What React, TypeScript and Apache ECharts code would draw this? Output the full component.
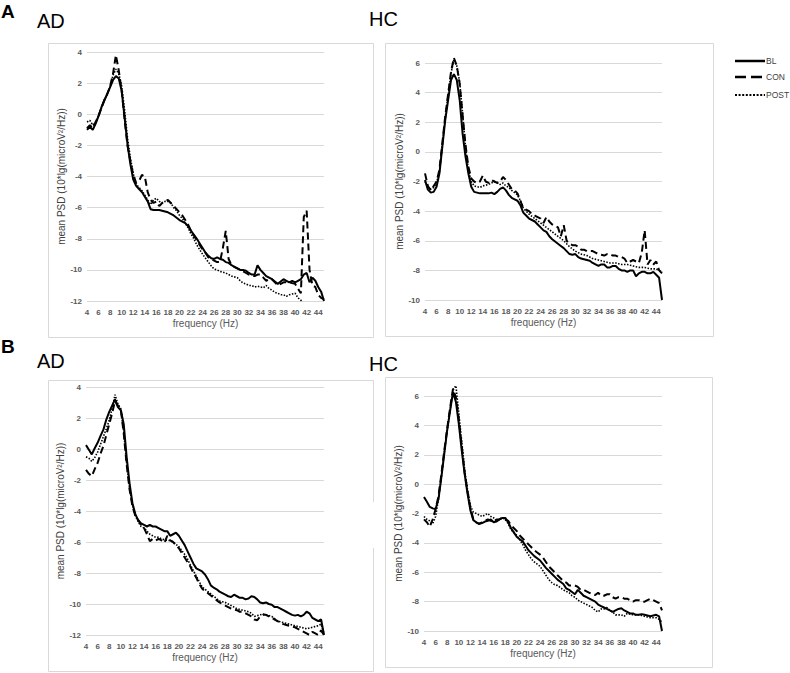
import React, { useEffect, useRef } from "react";
import * as echarts from "echarts";

// Frequency grid (Hz) shared by every spectrum
const FREQS = [
  4, 4.5, 5, 5.5, 6, 6.5, 7, 7.5, 8, 8.5,
  9, 9.5, 10, 10.5, 11, 11.5, 12, 12.5, 13, 13.5,
  14, 14.5, 15, 15.5, 16, 16.5, 17, 17.5, 18, 18.5,
  19, 19.5, 20, 20.5, 21, 21.5, 22, 22.5, 23, 23.5,
  24, 24.5, 25, 25.5, 26, 26.5, 27, 27.5, 28, 28.5,
  29, 29.5, 30, 30.5, 31, 31.5, 32, 32.5, 33, 33.5,
  34, 34.5, 35, 35.5, 36, 36.5, 37, 37.5, 38, 38.5,
  39, 39.5, 40, 40.5, 41, 41.5, 42, 42.5, 43, 43.5,
  44, 44.5, 45,
];

const X_TICKS = [4, 6, 8, 10, 12, 14, 16, 18, 20, 22, 24, 26, 28, 30, 32, 34, 36, 38, 40, 42, 44];

// A — AD
const A_AD_BL = [
  -1.0, -0.8, -1.0, -0.6, -0.1, 0.45, 0.9, 1.3, 1.75, 2.2,
  2.45, 2.3, 1.5, -0.2, -1.9, -3.2, -4.2, -4.6, -4.8, -5.0,
  -5.3, -5.6, -6.1, -6.15, -6.15, -6.15, -6.2, -6.25, -6.3, -6.4,
  -6.5, -6.65, -6.8, -6.9, -7.0, -7.2, -7.5, -7.75, -8.0, -8.3,
  -8.6, -8.9, -9.1, -9.25, -9.3, -9.2, -9.3, -9.35, -9.5, -9.55,
  -9.7, -9.8, -9.9, -10.0, -10.0, -10.05, -10.2, -10.3, -10.3, -9.7,
  -10.0, -10.2, -10.4, -10.5, -10.6, -10.75, -10.9, -10.75, -10.6, -10.7,
  -10.8, -10.7, -10.8, -10.7, -10.6, -10.3, -10.2, -10.8, -10.5, -10.7,
  -11.1, -11.4, -12.0,
];
const A_AD_CON = [
  -0.9, -0.7, -0.9, -0.5, -0.1, 0.4, 0.9, 1.3, 1.8, 2.6,
  3.8, 2.8, 1.5, -0.3, -2.0, -3.0, -3.9, -4.4, -4.3, -3.9,
  -4.0, -5.0, -5.5, -5.7, -5.6, -5.9, -5.7, -5.6, -5.5, -5.7,
  -5.9, -6.1, -6.3, -6.5, -6.8, -7.1, -7.5, -7.8, -8.1, -8.4,
  -8.7, -8.9, -9.2, -9.3, -9.4, -9.5, -9.5, -8.6, -7.5, -9.3,
  -9.7, -9.8, -9.9, -10.0, -10.1, -10.2, -10.3, -10.35, -10.4, -10.3,
  -10.3, -10.5, -10.7, -10.6, -10.6, -10.8, -11.0, -10.9, -10.8, -10.8,
  -10.8, -10.85, -10.9, -11.2, -11.5, -6.6, -6.2, -10.0, -11.0, -11.1,
  -11.6, -11.8, -11.9,
];
const A_AD_POST = [
  -0.5, -0.4, -0.7, -0.5, -0.1, 0.4, 0.9, 1.3, 1.8, 2.5,
  2.9, 2.6, 1.8, 0.3, -1.5, -2.8, -3.8, -4.5, -4.7, -4.9,
  -5.2, -5.5, -5.8, -5.5, -5.4, -5.6, -5.7, -5.6, -5.6, -5.7,
  -6.0, -6.2, -6.5, -6.7, -7.0, -7.3, -7.7, -8.0, -8.4, -8.7,
  -9.0, -9.25, -9.5, -9.75, -9.95, -10.0, -10.1, -10.15, -10.2, -10.3,
  -10.4, -10.45, -10.5, -10.7, -10.85, -10.9, -11.0, -11.0, -11.1, -11.05,
  -11.1, -11.15, -11.0, -11.2, -11.3, -11.45, -11.5, -11.6, -11.6, -11.7,
  -11.6, -11.55, -11.5, -11.8, -11.95, -12.2, -12.3, -12.3, -12.3, -12.3,
  -12.3, -12.3, -12.3,
];

// A — HC
const A_HC_BL = [
  -1.9, -2.55, -2.75, -2.7, -2.35, -1.45, 0.35, 2.15, 3.5, 4.85,
  5.25, 4.85, 3.5, 1.25, -0.3, -1.45, -2.35, -2.7, -2.75, -2.8,
  -2.8, -2.8, -2.8, -2.75, -2.85, -2.7, -2.5, -2.4, -2.6, -2.9,
  -3.1, -3.2, -3.3, -3.6, -4.1, -4.3, -4.5, -4.6, -4.7, -4.9,
  -5.1, -5.3, -5.4, -5.7, -5.9, -6.05, -6.2, -6.35, -6.5, -6.7,
  -6.9, -6.95, -6.9, -7.1, -7.2, -7.25, -7.3, -7.35, -7.5, -7.6,
  -7.7, -7.6, -7.6, -7.8, -7.8, -7.7, -7.7, -7.9, -8.0, -8.0,
  -8.1, -8.0, -8.0, -8.4, -8.2, -8.1, -8.1, -8.2, -8.2, -8.1,
  -8.3, -8.5, -10.0,
];
const A_HC_CON = [
  -1.45, -2.3, -2.6, -2.3, -2.0, -1.2, 0.6, 2.4, 3.9, 5.4,
  6.35, 5.8, 4.6, 2.5, 0.5, -1.0, -1.8, -2.0, -2.1, -2.0,
  -1.6, -2.0, -2.1, -1.9, -2.0, -2.1, -2.0, -1.7, -1.9, -2.2,
  -2.5, -2.6, -2.8, -3.3, -3.8, -3.9, -4.0, -4.2, -4.3, -4.4,
  -4.5, -4.8, -4.4, -4.7, -4.9, -5.0, -5.1, -5.7, -4.95, -6.0,
  -6.2, -6.3, -6.3, -6.4, -6.6, -6.6, -6.7, -6.7, -6.7, -6.8,
  -6.9, -6.95, -7.0, -6.9, -6.9, -7.0, -7.0, -7.1, -7.1, -7.2,
  -7.5, -7.4, -7.3, -7.4, -7.5, -6.8, -5.3, -7.6, -7.3, -7.6,
  -7.4, -8.0, -8.2,
];
const A_HC_POST = [
  -2.0, -2.4, -2.5, -2.4, -2.1, -1.3, 0.5, 2.3, 3.8, 5.3,
  6.25, 5.8, 4.7, 2.6, 0.4, -1.2, -2.0, -2.3, -2.35, -2.4,
  -2.3, -2.25, -2.2, -2.1, -2.0, -2.1, -2.2, -2.1, -2.3, -2.4,
  -2.6, -2.75, -2.9, -3.3, -3.8, -4.0, -4.2, -4.35, -4.5, -4.65,
  -4.8, -4.95, -5.1, -5.25, -5.4, -5.55, -5.7, -5.85, -6.0, -6.2,
  -6.4, -6.55, -6.7, -6.8, -6.9, -6.95, -7.0, -7.1, -7.2, -7.25,
  -7.3, -7.35, -7.4, -7.45, -7.5, -7.5, -7.5, -7.55, -7.6, -7.6,
  -7.6, -7.65, -7.7, -7.75, -7.8, -7.8, -7.8, -7.85, -7.9, -7.9,
  -7.9, -8.0, -8.1,
];

// B — AD
const B_AD_BL = [
  0.25, -0.05, -0.35, 0.05, 0.4, 0.85, 1.25, 1.9, 2.4, 2.8,
  3.2, 2.7, 2.5, 1.6, -0.5, -2.2, -3.5, -4.2, -4.6, -4.8,
  -4.9, -5.0, -4.9, -5.0, -5.0, -5.1, -5.2, -5.3, -5.3, -5.6,
  -5.5, -5.4, -5.6, -5.9, -6.2, -6.6, -7.0, -7.4, -7.7, -7.8,
  -7.9, -8.1, -8.4, -8.8, -8.95, -9.05, -9.2, -9.3, -9.4, -9.5,
  -9.55, -9.4, -9.5, -9.6, -9.6, -9.7, -9.65, -9.5, -9.55, -9.7,
  -9.9, -9.95, -9.9, -10.0, -10.05, -10.2, -10.2, -10.3, -10.4, -10.5,
  -10.6, -10.7, -10.75, -10.7, -10.8, -10.7, -10.5, -10.6, -10.9, -11.0,
  -11.1, -11.0, -12.0,
];
const B_AD_CON = [
  -1.35, -1.6, -1.75, -1.3, -0.9, -0.3, 0.2, 0.9, 1.6, 2.3,
  3.1, 2.8, 2.55, 1.0, -1.0, -2.6, -3.7, -4.3, -4.6, -4.9,
  -5.1, -5.5, -5.95, -5.8, -5.9, -5.8, -5.9, -6.05, -5.6, -5.9,
  -6.0, -6.2, -6.4, -6.7, -7.0, -7.3, -7.6, -8.0, -8.3, -8.7,
  -9.0, -9.2, -9.3, -9.45, -9.6, -9.75, -9.9, -10.0, -10.1, -10.2,
  -10.3, -10.35, -10.4, -10.5, -10.5, -10.6, -10.7, -10.8, -11.0, -11.05,
  -10.8, -10.7, -10.7, -10.8, -10.9, -11.0, -11.1, -11.2, -11.3, -11.35,
  -11.4, -11.45, -11.5, -11.6, -11.7, -11.8, -11.9, -12.0, -11.8, -11.9,
  -12.0, -11.7, -12.0,
];
const B_AD_POST = [
  -0.5, -0.6, -0.8, -0.55, -0.2, 0.3, 0.8, 1.3, 1.85, 2.6,
  3.5, 2.9, 2.6, 1.1, -0.9, -2.5, -3.6, -4.3, -4.7, -5.0,
  -5.1, -5.3, -5.5, -5.6, -5.7, -5.7, -5.8, -5.85, -5.9, -5.9,
  -6.0, -6.15, -6.3, -6.55, -6.8, -7.1, -7.5, -7.85, -8.2, -8.55,
  -8.9, -9.05, -9.2, -9.35, -9.5, -9.65, -9.8, -9.85, -9.9, -10.0,
  -10.1, -10.2, -10.3, -10.35, -10.4, -10.45, -10.5, -10.6, -10.8, -10.75,
  -10.7, -10.65, -10.7, -10.75, -10.8, -10.95, -11.1, -11.15, -11.2, -11.25,
  -11.3, -11.35, -11.4, -11.45, -11.5, -11.55, -11.6, -11.55, -11.5, -11.45,
  -11.4, -11.3, -11.9,
];

// B — HC
const B_HC_BL = [
  -0.87, -1.2, -1.55, -1.65, -1.7, -1.0, 0.5, 2.1, 3.7, 5.0,
  6.25, 5.6, 4.1, 2.3, 0.7, -0.65, -1.8, -2.45, -2.6, -2.7,
  -2.65, -2.55, -2.5, -2.4, -2.6, -2.55, -2.4, -2.3, -2.3, -2.6,
  -3.0, -3.3, -3.6, -3.75, -3.9, -4.2, -4.5, -4.7, -4.9, -5.05,
  -5.2, -5.45, -5.7, -5.9, -6.1, -6.3, -6.5, -6.65, -6.8, -7.1,
  -7.2, -7.35, -7.5, -7.2, -7.4, -7.6, -7.7, -7.8, -7.9, -8.0,
  -8.2, -8.3, -8.4, -8.5, -8.6, -8.7, -8.6, -8.5, -8.45, -8.6,
  -8.7, -8.8, -8.8, -8.9, -8.9, -8.85, -8.9, -8.95, -9.0, -8.95,
  -8.9, -9.0, -10.0,
];
const B_HC_CON = [
  -2.4, -2.6, -2.9, -2.4, -1.7, -0.8, 0.7, 2.3, 3.8, 5.2,
  6.5, 5.9, 4.4, 2.6, 0.8, -0.5, -1.6, -2.4, -2.6, -2.7,
  -2.6, -2.5, -2.4, -2.5, -2.6, -2.4, -2.4, -2.3, -2.4, -2.5,
  -2.8, -3.0, -3.2, -3.5, -3.7, -3.9, -4.1, -4.3, -4.5, -4.65,
  -4.8, -5.0, -5.3, -5.6, -5.8, -6.0, -6.2, -6.4, -6.6, -6.7,
  -6.9, -6.9, -6.9, -7.0, -7.2, -7.2, -7.3, -7.4, -7.5, -7.55,
  -7.4, -7.6, -7.6, -7.5, -7.5, -7.7, -7.8, -7.7, -7.7, -7.8,
  -7.8, -7.9, -8.0, -7.9, -7.9, -8.0, -8.0, -7.9, -7.8, -7.9,
  -8.0, -8.1, -8.6,
];
const B_HC_POST = [
  -2.2, -2.4, -2.5, -2.7, -2.2, -1.0, 0.5, 2.2, 3.7, 5.1,
  6.4, 6.7, 4.8, 2.9, 1.0, -0.4, -1.5, -1.9, -2.0, -2.1,
  -2.2, -2.1, -2.0, -2.2, -2.3, -2.5, -2.4, -2.3, -2.4, -2.7,
  -3.1, -3.3, -3.5, -3.8, -4.1, -4.5, -4.8, -5.1, -5.3, -5.45,
  -5.6, -5.9, -6.2, -6.5, -6.7, -6.85, -6.9, -7.05, -7.2, -7.3,
  -7.4, -7.6, -7.7, -7.9, -8.0, -8.1, -8.2, -8.3, -8.4, -8.6,
  -8.7, -8.5, -8.5, -8.4, -8.6, -8.7, -8.9, -8.9, -8.9, -9.0,
  -8.8, -8.85, -8.9, -8.9, -8.9, -8.95, -9.0, -9.05, -9.1, -9.1,
  -9.1, -9.2, -9.4,
];

const CONDITIONS = ["BL", "CON", "POST"];
const Y_TITLE = "mean PSD (10*lg(microV\u00B2/Hz))";
const X_TITLE = "frequency (Hz)";

const FONT = "Liberation Sans, Arial, sans-serif";
const TICK_COLOR = "#595959";
const GRID_COLOR = "#d9d9d9";

const LINE_STYLES: Record<string, { type: any; width: number }> = {
  BL: { type: "solid", width: 2 },
  CON: { type: [7, 4], width: 2 },
  POST: { type: [1.5, 1.5], width: 1.6 },
};

// AD panels keep their traces inside the plot; HC peaks rise above the top gridline
const PANELS = [
  { grid: { left: 87, top: 52, width: 237, height: 249 }, yMin: -12, yMax: 4, clip: true, curves: [A_AD_BL, A_AD_CON, A_AD_POST] },
  { grid: { left: 425, top: 63, width: 237, height: 237 }, yMin: -10, yMax: 6, clip: false, curves: [A_HC_BL, A_HC_CON, A_HC_POST] },
  { grid: { left: 86, top: 387, width: 238, height: 248 }, yMin: -12, yMax: 4, clip: true, curves: [B_AD_BL, B_AD_CON, B_AD_POST] },
  { grid: { left: 424, top: 396, width: 238, height: 235 }, yMin: -10, yMax: 6, clip: false, curves: [B_HC_BL, B_HC_CON, B_HC_POST] },
];

function buildOption() {
  const grids = PANELS.map((p) => ({ ...p.grid, containLabel: false }));
  const xAxes = PANELS.map((_, i) => ({
    type: "value",
    gridIndex: i,
    min: 4,
    max: 45,
    interval: 2,
    axisLine: { show: false },
    axisTick: { show: false },
    splitLine: { show: false },
    axisLabel: {
      margin: 7,
      fontSize: 8,
      fontWeight: "bold",
      fontFamily: FONT,
      color: TICK_COLOR,
      formatter: (v: number) => (X_TICKS.includes(v) ? String(v) : ""),
    },
    name: X_TITLE,
    nameLocation: "middle",
    nameGap: 17,
    nameTextStyle: { fontSize: 10, fontFamily: FONT, color: TICK_COLOR },
  }));
  const yAxes = PANELS.map((p, i) => ({
    type: "value",
    gridIndex: i,
    min: p.yMin,
    max: p.yMax,
    interval: 2,
    axisLine: { show: false },
    axisTick: { show: false },
    splitLine: { show: true, lineStyle: { color: GRID_COLOR, width: 1 } },
    axisLabel: {
      margin: 5,
      fontSize: 8,
      fontWeight: "bold",
      fontFamily: FONT,
      color: TICK_COLOR,
    },
    name: Y_TITLE,
    nameLocation: "middle",
    nameGap: 16,
    nameRotate: 90,
    nameTextStyle: { fontSize: 10, fontFamily: FONT, color: "#404040" },
  }));

  const series: any[] = [];
  PANELS.forEach((p, i) => {
    p.curves.forEach((vals, k) => {
      const cond = CONDITIONS[k];
      series.push({
        type: "line",
        name: cond,
        xAxisIndex: i,
        yAxisIndex: i,
        showSymbol: false,
        symbol: "none",
        clip: p.clip,
        smooth: false,
        data: FREQS.map((f, j) => [f, vals[j]]),
        lineStyle: { color: "#000", ...LINE_STYLES[cond] },
        z: 3 - k,
      });
    });
  });

  const boxStyle = { fill: "none", stroke: GRID_COLOR, lineWidth: 1 };
  const title = (text: string, x: number, y: number, size: number, weight: string) => ({
    type: "text",
    x,
    y,
    style: {
      text,
      fill: "#000",
      font: `${weight} ${size}px ${FONT}`,
      textAlign: "left",
      textVerticalAlign: "middle",
    },
  });
  const legendRow = (label: string, y: number, dash: any, w: number) => [
    {
      type: "line",
      shape: { x1: 735, y1: y, x2: 765, y2: y },
      style: { stroke: "#000", lineWidth: w, lineDash: dash },
    },
    {
      type: "text",
      x: 766,
      y,
      style: {
        text: label,
        fill: "#404040",
        font: `8.5px ${FONT}`,
        textAlign: "left",
        textVerticalAlign: "middle",
      },
    },
  ];

  const graphic: any[] = [
    { type: "rect", shape: { x: 48.5, y: 43.5, width: 325, height: 294 }, style: boxStyle, silent: true },
    { type: "rect", shape: { x: 385.5, y: 43.5, width: 328, height: 293 }, style: boxStyle, silent: true },
    {
      type: "polyline",
      shape: { points: [[373.5, 502], [373.5, 380.5], [48.5, 380.5], [48.5, 671.5], [373.5, 671.5], [373.5, 548]] },
      style: boxStyle,
      silent: true,
    },
    { type: "rect", shape: { x: 385.5, y: 377.5, width: 327, height: 290 }, style: boxStyle, silent: true },
    title("A", 1, 11, 19, "bold"),
    title("AD", 37, 21, 20, "normal"),
    title("HC", 369, 19, 20, "normal"),
    title("B", 1, 346, 19, "bold"),
    title("AD", 37, 361, 20, "normal"),
    title("HC", 369, 364, 20, "normal"),
    ...legendRow("BL", 61, null, 2.5),
    ...legendRow("CON", 77, [11, 5], 2.5),
    ...legendRow("POST", 95, [2, 1.6], 2),
  ];

  return {
    animation: false,
    backgroundColor: "#fff",
    grid: grids,
    xAxis: xAxes,
    yAxis: yAxes,
    series,
    graphic,
  };
}

export default function App() {
  const ref = useRef<HTMLDivElement>(null);
  useEffect(() => {
    if (!ref.current) return;
    const chart = echarts.init(ref.current, null, { renderer: "svg" });
    chart.setOption(buildOption() as any);
    return () => chart.dispose();
  }, []);
  return (
    <div
      ref={ref}
      style={{ position: "fixed", left: 0, top: 0, width: 790, height: 673, background: "#fff" }}
    />
  );
}
